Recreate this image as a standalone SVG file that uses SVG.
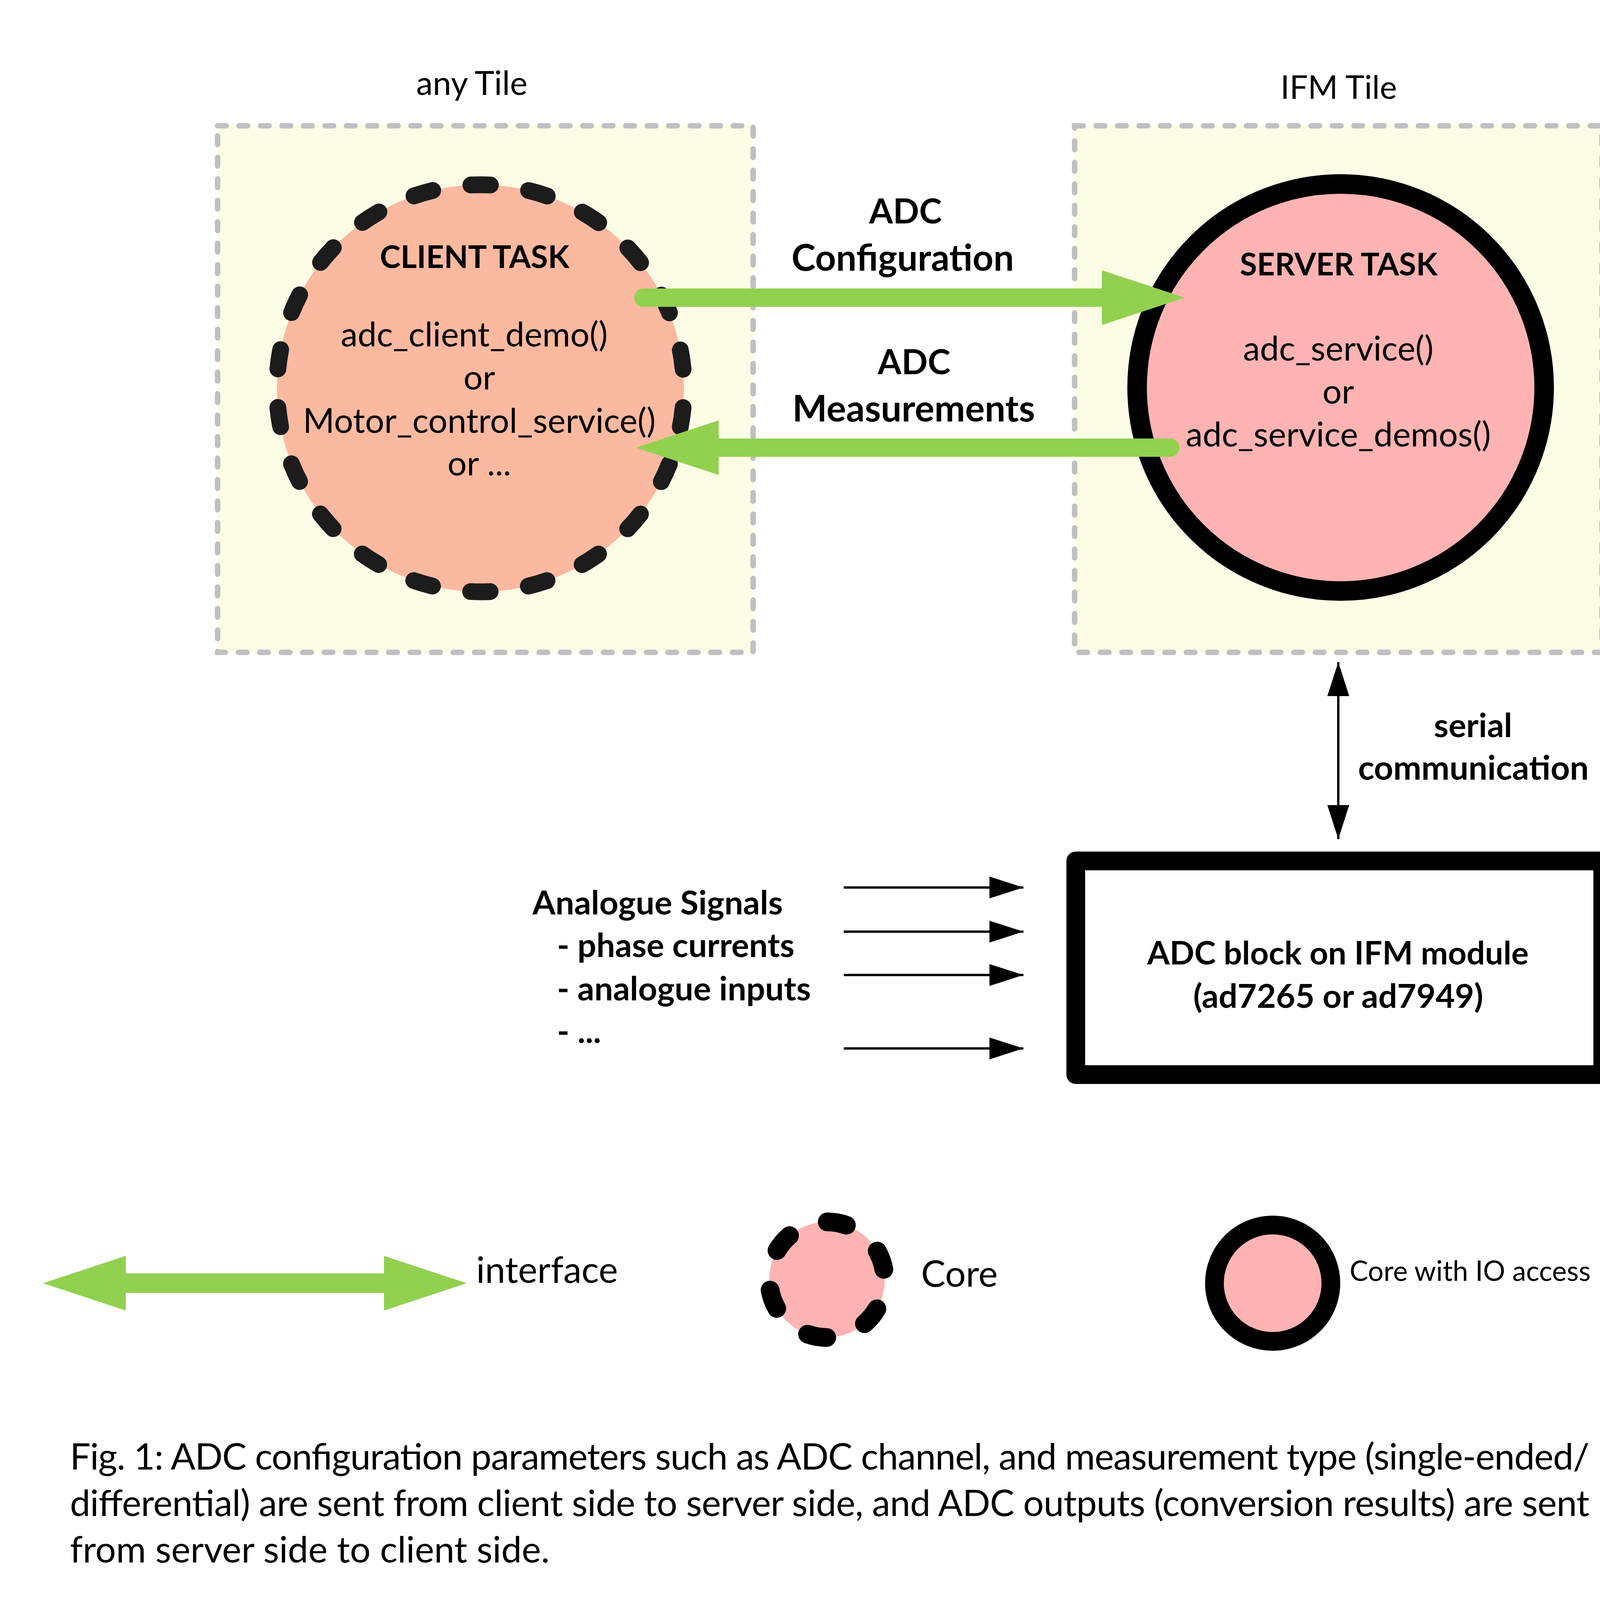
<svg xmlns="http://www.w3.org/2000/svg" width="4466" height="4196" viewBox="0 0 4466 4196">
<style>
  text { font-family: Lato, "Liberation Sans", sans-serif; fill: #000; }
  .t90 { font-size: 87px; }
  .b90 { font-size: 85px; font-weight: bold; }
  .b98 { font-size: 93px; font-weight: bold; }
  .t99 { font-size: 93.5px; }
  .mid { text-anchor: middle; }
  .tile { fill: #fdfde6; stroke: #c0c0c0; stroke-width: 14; stroke-dasharray: 22 33; stroke-linecap: round; }
  .green { fill: none; stroke: #92d050; stroke-width: 47; }
  .blk { fill: none; stroke: #000; stroke-width: 6; }
</style>
<defs>
  <marker id="ghead" markerUnits="userSpaceOnUse" viewBox="0 0 212 140" refX="0" refY="70" markerWidth="212" markerHeight="140" orient="auto-start-reverse">
    <path d="M0,0 L212,70 L0,140 Z" fill="#92d050"/>
  </marker>
  <marker id="bhead" markerUnits="userSpaceOnUse" viewBox="0 0 87 56" refX="87" refY="28" markerWidth="87" markerHeight="56" orient="auto-start-reverse">
    <path d="M0,0 L87,28 L0,56 Z" fill="#000"/>
  </marker>
</defs>
<rect width="4466" height="4196" fill="#fff"/>

<g id="tile-any">
  <rect class="tile" x="557" y="322" width="1371" height="1348"/>
  <text class="t90 mid" x="1208" y="243" style="font-size:85px">any Tile</text>
</g>
<g id="tile-ifm">
  <rect class="tile" x="2751" y="322" width="1350" height="1348"/>
  <text class="t90 mid" x="3427" y="253" style="font-size:83px">IFM Tile</text>
</g>

<g id="client-task">
  <circle cx="1230" cy="994" r="521" fill="#fbb9a0" stroke="#1c1c1c" stroke-width="43" stroke-dasharray="50 98.8" stroke-dashoffset="-49.5" stroke-linecap="round"/>
  <text class="b90 mid" x="1215" y="686" style="font-size:80px">CLIENT TASK</text>
  <text class="t90 mid" x="1214" y="887">adc_client_demo()</text>
  <text class="t90 mid" x="1227" y="997">or</text>
  <text class="t90 mid" x="1227" y="1108">Motor_control_service()</text>
  <text class="t90 mid" x="1227" y="1217">or ...</text>
</g>

<g id="server-task">
  <circle cx="3432" cy="992" r="521" fill="#ffb3b3" stroke="#000" stroke-width="50"/>
  <text class="b90 mid" x="3427" y="705" style="font-size:80px">SERVER TASK</text>
  <text class="t90 mid" x="3426" y="923">adc_service()</text>
  <text class="t90 mid" x="3426" y="1033">or</text>
  <text class="t90 mid" x="3426" y="1143">adc_service_demos()</text>
</g>

<g id="adc-block">
  <rect x="2754" y="2204" width="1349" height="547" fill="#fff" stroke="#000" stroke-width="48" stroke-linejoin="round"/>
  <text class="b90 mid" x="3425" y="2469" style="font-size:83px">ADC block on IFM module</text>
  <text class="b90 mid" x="3426" y="2580">(ad7265 or ad7949)</text>
</g>

<g id="analogue-signals">
  <text class="b90" x="1363" y="2341">Analogue Signals</text>
  <text class="b90" x="1426" y="2450">- phase currents</text>
  <text class="b90" x="1426" y="2561">- analogue inputs</text>
  <text class="b90" x="1426" y="2670">- ...</text>
</g>

<g id="connectors">
  <path class="green" d="M1647,762 H2821" stroke-linecap="round" marker-end="url(#ghead)"/>
  <path class="green" d="M2996,1146 H1840" stroke-linecap="round" marker-end="url(#ghead)"/>
  <path class="blk" d="M3426,1695 V2148" marker-start="url(#bhead)" marker-end="url(#bhead)"/>
  <path class="blk" d="M2160,2272 H2620" marker-end="url(#bhead)"/>
  <path class="blk" d="M2160,2385 H2620" marker-end="url(#bhead)"/>
  <path class="blk" d="M2160,2496 H2620" marker-end="url(#bhead)"/>
  <path class="blk" d="M2160,2684 H2620" marker-end="url(#bhead)"/>
</g>

<g id="connector-labels">
  <text class="b98 mid" x="2318" y="572" style="font-size:88px">ADC</text>
  <text class="b98 mid" x="2311" y="693">Configuration</text>
  <text class="b98 mid" x="2340" y="958" style="font-size:88px">ADC</text>
  <text class="b98 mid" x="2339" y="1079" style="font-size:94px">Measurements</text>
  <text class="b90 mid" x="3771" y="1887">serial</text>
  <text class="b90 mid" x="3772" y="1996" style="font-size:86px">communication</text>
</g>

<g id="legend-interface">
  <path d="M322,3285 H983" fill="none" stroke="#92d050" stroke-width="50" marker-start="url(#ghead)" marker-end="url(#ghead)"/>
  <text class="t99" x="1219" y="3284">interface</text>
</g>
<g id="legend-core">
  <circle cx="2117" cy="3276" r="148" fill="#ffb3b3" stroke="#000" stroke-width="48" stroke-dasharray="50 104.98" stroke-dashoffset="-78" stroke-linecap="round"/>
  <text class="t99" x="2358" y="3294">Core</text>
</g>
<g id="legend-io">
  <circle cx="3258" cy="3285" r="149" fill="#ffb3b3" stroke="#000" stroke-width="48"/>
  <text class="t99" x="3455" y="3279" style="font-size:71px">Core with IO access</text>
</g>

<g id="caption">
  <text class="t99" x="179" y="3762" textLength="3890">Fig. 1: ADC configuration parameters such as ADC channel, and measurement type (single-ended/</text>
  <text class="t99" x="179" y="3881" textLength="3890">differential) are sent from client side to server side, and ADC outputs (conversion results) are sent</text>
  <text class="t99" x="179" y="4000">from server side to client side.</text>
</g>
</svg>
